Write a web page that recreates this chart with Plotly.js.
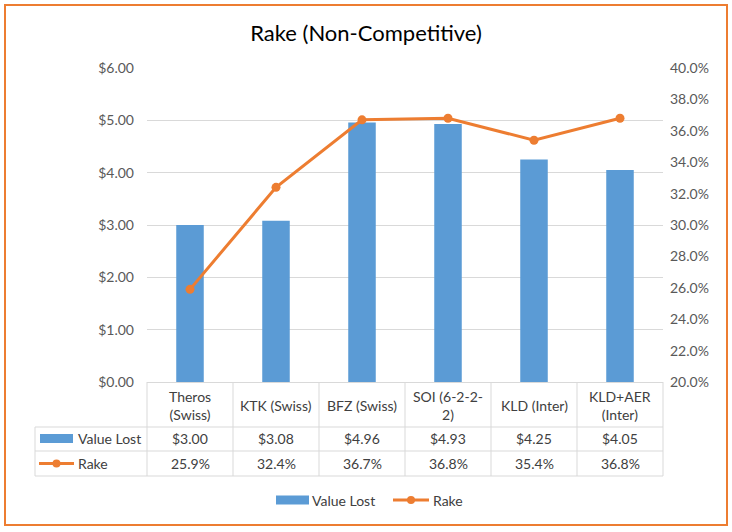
<!DOCTYPE html>
<html>
<head>
<meta charset="utf-8">
<script src="https://cdn.plot.ly/plotly-3.0.1.min.js"></script>
<style>html,body{margin:0;padding:0;background:#fff;}#chart{width:732px;height:532px;}</style>
</head>
<body>
<div id="chart"></div>
<script>
// ---- data ----
var categories = ['Theros (Swiss)', 'KTK (Swiss)', 'BFZ (Swiss)', 'SOI (6-2-2-2)', 'KLD (Inter)', 'KLD+AER (Inter)'];
var headerLabels = ['Theros<br>(Swiss)', 'KTK (Swiss)', 'BFZ (Swiss)', 'SOI (6-2-2-<br>2)', 'KLD (Inter)', 'KLD+AER<br>(Inter)'];
var valueLost = [3.00, 3.08, 4.96, 4.93, 4.25, 4.05];
var rake = [0.259, 0.324, 0.367, 0.368, 0.354, 0.368];
var seriesNames = ['Value Lost', 'Rake'];

// ---- styling ----
var W = 732, H = 532;
var L = 147, R = 69, T = 68, B = 150;
var pw = W - L - R, ph = H - T - B;
function px(p) { return (p - L) / pw; }          // pixel x -> paper x
function py(p) { return (H - B - p) / ph; }      // pixel y -> paper y
var blue = '#5B9BD5', orange = '#ED7D31', grid = '#D9D9D9';
var font = 'Lato, "Open Sans", sans-serif';
var txt = '#404040';

var traces = [
  {
    type: 'bar', name: seriesNames[0], x: categories, y: valueLost,
    marker: {color: blue}, width: 0.32, yaxis: 'y', showlegend: false
  },
  {
    type: 'scatter', mode: 'lines+markers', name: seriesNames[1], x: categories, y: rake,
    yaxis: 'y2', line: {color: orange, width: 3}, marker: {color: orange, size: 9}, showlegend: false
  }
];

var shapes = [];
var annotations = [];
var n = categories.length;
var row1 = py(427), row2 = py(451), row3 = py(476);
var labLeft = px(35);
// vertical lines
for (var k = 0; k <= n; k++) {
  shapes.push({type: 'line', xref: 'paper', yref: 'paper', x0: k / n, x1: k / n, y0: 0, y1: row3, line: {color: grid, width: 1}});
}
shapes.push({type: 'line', xref: 'paper', yref: 'paper', x0: labLeft, x1: labLeft, y0: row1, y1: row3, line: {color: grid, width: 1}});
// horizontal lines
[row1, row2, row3].forEach(function (yy) {
  shapes.push({type: 'line', xref: 'paper', yref: 'paper', x0: labLeft, x1: 1, y0: yy, y1: yy, line: {color: grid, width: 1}});
});
// key helpers
function barKey(x0, x1, yc) {
  shapes.push({type: 'rect', xref: 'paper', yref: 'paper', x0: px(x0), x1: px(x1), y0: py(yc - 4.5), y1: py(yc + 4.5), fillcolor: blue, line: {width: 0}});
}
function lineKey(x0, x1, yc) {
  var xm = (x0 + x1) / 2;
  shapes.push({type: 'line', xref: 'paper', yref: 'paper', x0: px(x0), x1: px(x1), y0: py(yc), y1: py(yc), line: {color: orange, width: 3}});
  shapes.push({type: 'circle', xref: 'paper', yref: 'paper', x0: px(xm - 4), x1: px(xm + 4), y0: py(yc - 4), y1: py(yc + 4), fillcolor: orange, line: {width: 0}});
}
// table row keys
barKey(40, 73, 438.5);
lineKey(39, 74, 463.5);
// bottom legend keys
barKey(276, 309, 500);
lineKey(393, 429, 500);
// outer border
shapes.push({type: 'rect', xref: 'paper', yref: 'paper', x0: px(5), x1: px(727), y0: py(5), y1: py(525), line: {color: orange, width: 2}, layer: 'below'});

var cellFont = {family: font, size: 14, color: txt};
for (var i = 0; i < n; i++) {
  annotations.push({xref: 'x', yref: 'paper', x: categories[i], y: py(405), text: headerLabels[i], showarrow: false, font: cellFont, align: 'center', yanchor: 'middle'});
  annotations.push({xref: 'x', yref: 'paper', x: categories[i], y: py(438.5), text: '$' + valueLost[i].toFixed(2), showarrow: false, font: cellFont, yanchor: 'middle'});
  annotations.push({xref: 'x', yref: 'paper', x: categories[i], y: py(463.5), text: (rake[i] * 100).toFixed(1) + '%', showarrow: false, font: cellFont, yanchor: 'middle'});
}
annotations.push({xref: 'paper', yref: 'paper', x: px(76), y: py(438.5), xanchor: 'left', yanchor: 'middle', text: seriesNames[0], showarrow: false, font: cellFont});
annotations.push({xref: 'paper', yref: 'paper', x: px(76), y: py(463.5), xanchor: 'left', yanchor: 'middle', text: seriesNames[1], showarrow: false, font: cellFont});
// bottom legend labels
annotations.push({xref: 'paper', yref: 'paper', x: px(310), y: py(500), xanchor: 'left', yanchor: 'middle', text: seriesNames[0], showarrow: false, font: cellFont});
annotations.push({xref: 'paper', yref: 'paper', x: px(431), y: py(500), xanchor: 'left', yanchor: 'middle', text: seriesNames[1], showarrow: false, font: cellFont});

var layout = {
  width: W, height: H,
  margin: {l: L, r: R, t: T, b: B},
  paper_bgcolor: '#fff', plot_bgcolor: '#fff',
  font: {family: font, size: 14, color: '#595959'},
  title: {text: 'Rake (Non-Competitive)', font: {family: font, size: 22, color: '#000'}, xref: 'container', x: 0.5, xanchor: 'center', yref: 'container', y: 1 - 33 / H, yanchor: 'middle'},
  xaxis: {type: 'category', showticklabels: false, showgrid: false, zeroline: false, showline: true, linecolor: grid, linewidth: 1, fixedrange: true},
  yaxis: {range: [0, 6], dtick: 1, tickformat: '$.2f', showgrid: true, gridcolor: grid, zeroline: false, showline: false, ticks: '', ticklabelstandoff: 12, tickfont: {family: font, size: 14, color: '#595959'}},
  yaxis2: {range: [0.2, 0.4], dtick: 0.02, tickformat: '.1%', overlaying: 'y', side: 'right', showgrid: false, zeroline: false, showline: false, ticks: '', ticklabelstandoff: 6, tickfont: {family: font, size: 14, color: '#595959'}},
  showlegend: false,
  shapes: shapes,
  annotations: annotations
};

Plotly.newPlot('chart', traces, layout, {displayModeBar: false, staticPlot: true});
</script>
</body>
</html>
